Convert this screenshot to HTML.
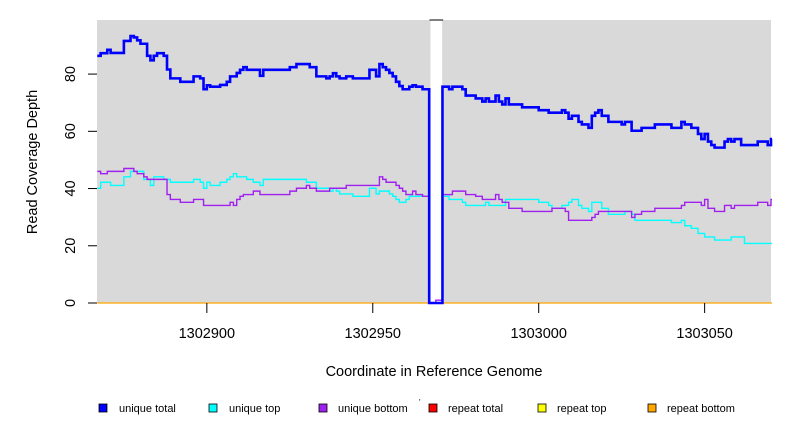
<!DOCTYPE html>
<html><head><meta charset="utf-8"><style>
html,body{margin:0;padding:0;background:#fff;width:792px;height:432px;overflow:hidden}
svg text{font-family:"Liberation Sans",sans-serif}
</style></head><body>
<svg id="chart" width="792" height="432" xmlns="http://www.w3.org/2000/svg">
<rect x="97" y="20" width="674" height="283" fill="#d9d9d9"/>
<g id="series"></g>
<g id="axes"></g>
<text x="434" y="376" font-size="14.5" text-anchor="middle">Coordinate in Reference Genome</text>
<text transform="translate(37,162) rotate(-90)" font-size="14.5" text-anchor="middle">Read Coverage Depth</text>
<g font-size="11">
<rect x="99" y="404" width="8" height="8" fill="#0000ff" stroke="#000" stroke-width="0.8"/>
<text x="119" y="412">unique total</text>
<rect x="209" y="404" width="8" height="8" fill="#00ffff" stroke="#000" stroke-width="0.8"/>
<text x="229" y="412">unique top</text>
<rect x="319" y="404" width="8" height="8" fill="#a020f0" stroke="#000" stroke-width="0.8"/>
<text x="338" y="412">unique bottom</text>
<text x="419" y="405" font-size="8">'</text>
<rect x="429" y="404" width="8" height="8" fill="#ff0000" stroke="#000" stroke-width="0.8"/>
<text x="448" y="412">repeat total</text>
<rect x="538" y="404" width="8" height="8" fill="#ffff00" stroke="#000" stroke-width="0.8"/>
<text x="557" y="412">repeat top</text>
<rect x="648" y="404" width="8" height="8" fill="#ffa500" stroke="#000" stroke-width="0.8"/>
<text x="667" y="412">repeat bottom</text>
</g>
</svg>
<script>
const baseStart = 1302867;
const xTicks = [1302900, 1302950, 1303000, 1303050];
const yTicks = [0, 20, 40, 60, 80];
const gapRange = [1302967.4, 1302970.9];
const seriesEnd = 203.3;
// runs: [offset from baseStart, depth]
const uniqueTotal = [[0,86.4],[1,87.3],[3,88.5],[4,87.4],[8,91.6],[10,93.3],[11,92.8],[12,91.8],[13,90.6],[15,86.4],[16,84.8],[17,86.4],[18,87.3],[20,86.4],[21,81.6],[22,78.5],[25,77.3],[29,79.2],[31,78.5],[32,74.7],[33,76.1],[34,75.6],[37,76.2],[39,77.3],[40,79.2],[42,80.4],[43,81.5],[44,82.4],[45,81.5],[49,79.4],[50,81.5],[58,82.4],[60,83.5],[64,82.4],[66,79.2],[69,78.5],[70,79.2],[71,80.3],[72,79.2],[73,78.5],[75,79.2],[77,78.5],[82,81.5],[84,79.2],[85,83.5],[86,82.4],[87,81.5],[88,80.4],[89,79.2],[90,77.3],[91,75.8],[92,74.7],[94,75.6],[95,76.1],[96,75.6],[98,74.7],[100,0],[104,75.6],[106,74.7],[107,75.6],[110,74.7],[111,72.5],[114,71.5],[116,70.4],[117,71.5],[118,70.4],[120,72.5],[121,70.4],[122,69.4],[123,71.5],[124,69.4],[128,68.4],[133,67.4],[136,66.5],[140,67.4],[141,66.5],[142,64.4],[143,65.4],[145,63.3],[146,62.4],[148,61.2],[149,65.4],[150,66.5],[151,67.4],[152,65.4],[154,63.3],[158,62.4],[159,63.3],[161,60.2],[164,61.2],[168,62.4],[173,61.2],[176,63.3],[177,62.4],[179,61.2],[181,59.1],[182,57.3],[183,59.1],[184,56.4],[185,55.2],[186,54.3],[189,56.4],[190,57.3],[191,56.4],[192,57.3],[194,55.2],[199,56.4],[202,55.2],[203,57.3]];
const uniqueTop = [[0,40.1],[1,42.2],[4,41.1],[8,44.1],[10,46.0],[14,43.2],[16,41.1],[17,44.1],[20,43.2],[22,42.2],[29,43.2],[31,42.2],[32,40.1],[33,42.2],[34,41.1],[37,42.2],[39,43.2],[40,44.1],[41,45.2],[42,44.1],[45,43.2],[47,42.2],[49,41.1],[50,43.2],[63,42.2],[66,40.1],[70,39.1],[71,40.1],[72,39.1],[73,38.1],[77,37.3],[82,40.1],[84,38.1],[85,39.1],[88,38.1],[89,37.3],[90,36.2],[91,35.2],[93,36.2],[94,37.3],[100,0],[104,37.3],[106,36.2],[110,35.2],[111,34.1],[117,35.2],[118,34.1],[123,36.2],[133,35.2],[136,34.1],[137,33.1],[140,34.1],[142,35.2],[143,36.2],[145,34.1],[146,33.1],[148,32.0],[149,35.2],[152,33.1],[154,31.0],[159,32.0],[161,31.0],[162,28.9],[173,28.1],[176,28.9],[177,27.0],[179,26.1],[181,24.3],[183,23.1],[186,22.0],[191,23.1],[195,20.8]];
const uniqueBottom = [[0,46.0],[1,45.2],[3,46.0],[8,47.0],[11,46.0],[12,45.2],[14,44.1],[15,43.2],[21,37.9],[22,36.2],[25,35.2],[29,36.2],[32,34.1],[40,35.2],[41,34.1],[42,36.2],[43,37.3],[44,37.9],[47,39.1],[49,37.9],[58,39.1],[60,40.1],[63,41.1],[64,40.1],[66,39.1],[70,40.1],[75,41.1],[85,44.1],[86,43.2],[87,42.2],[90,41.1],[91,40.1],[92,39.1],[93,37.9],[95,39.1],[96,37.9],[98,37.3],[100,0],[102,1],[104,37.9],[107,39.1],[111,37.9],[114,37.3],[116,36.2],[120,37.9],[121,36.2],[122,35.2],[124,33.1],[128,32.0],[137,33.1],[141,32.0],[142,28.9],[149,29.9],[150,31.0],[151,32.0],[161,29.9],[162,31.0],[164,32.0],[168,33.1],[176,34.1],[177,35.2],[182,34.1],[183,36.2],[184,33.1],[186,32.0],[189,34.1],[191,33.1],[192,34.1],[199,35.2],[202,34.1],[203,36.2]];
const repeatBottom = [[0,0]];

const NS = 'http://www.w3.org/2000/svg';
const X0 = 97, X1 = 771, Y0 = 303, Y1 = 20;
const xMin = 1302866.9, xMax = 1303070, yMin = 0, yMax = 98.9;
function xs(c){ return X0 + (c - xMin) / (xMax - xMin) * (X1 - X0); }
function ys(v){ return Y0 - (v - yMin) / (yMax - yMin) * (Y0 - Y1); }
const sg = document.getElementById('series');
const ag = document.getElementById('axes');

const gap = document.createElementNS(NS, 'rect');


gap.setAttribute('x', xs(gapRange[0])); gap.setAttribute('y', Y1);
gap.setAttribute('width', xs(gapRange[1]) - xs(gapRange[0])); gap.setAttribute('height', Y0 - Y1);
gap.setAttribute('fill', '#fff');
sg.appendChild(gap);
const gapTop = document.createElementNS(NS, 'line');


gapTop.setAttribute('x1', xs(gapRange[0]) - 1); gapTop.setAttribute('x2', xs(gapRange[1]) + 1);
gapTop.setAttribute('y1', Y1); gapTop.setAttribute('y2', Y1);
gapTop.setAttribute('stroke', '#000'); gapTop.setAttribute('stroke-width', '1');
sg.appendChild(gapTop);

function stepPath(runs){
  let d = '';
  runs.forEach((r, i) => {
    const x = xs(baseStart + r[0]).toFixed(2), y = ys(r[1]).toFixed(2);
    d += (i === 0 ? 'M' + x + ' ' + y : 'H' + x + 'V' + y);
  });
  d += 'H' + xs(baseStart + seriesEnd).toFixed(2);
  return d;
}
function addSeries(runs, name, color, w){
  const p = document.createElementNS(NS, 'path');
  
  
  p.setAttribute('d', stepPath(runs));
  p.setAttribute('fill', 'none');
  p.setAttribute('stroke', color);
  p.setAttribute('stroke-width', w);
  sg.appendChild(p);
}
addSeries(repeatBottom, 'repeat-bottom-line', '#ffa500', 1.2);
addSeries(uniqueTop, 'unique-top-line', '#00ffff', 1.4);
addSeries(uniqueBottom, 'unique-bottom-line', '#a020f0', 1.4);
addSeries(uniqueTotal, 'unique-total-line', '#0000ff', 2.6);

xTicks.forEach(t => {
  const l = document.createElementNS(NS, 'line');
  
  
  l.setAttribute('x1', xs(t)); l.setAttribute('x2', xs(t));
  l.setAttribute('y1', Y0); l.setAttribute('y2', Y0 + 10);
  l.setAttribute('stroke', '#000');
  ag.appendChild(l);
  const tx = document.createElementNS(NS, 'text');
  
  
  tx.setAttribute('x', xs(t)); tx.setAttribute('y', 338);
  tx.setAttribute('font-size', '14.5'); tx.setAttribute('text-anchor', 'middle');
  tx.textContent = t;
  ag.appendChild(tx);
});
yTicks.forEach(t => {
  const l = document.createElementNS(NS, 'line');
  
  
  l.setAttribute('x1', X0 - 9); l.setAttribute('x2', X0);
  l.setAttribute('y1', ys(t)); l.setAttribute('y2', ys(t));
  l.setAttribute('stroke', '#000');
  ag.appendChild(l);
  const tx = document.createElementNS(NS, 'text');
  
  
  tx.setAttribute('transform', 'translate(75,' + ys(t) + ') rotate(-90)');
  tx.setAttribute('font-size', '14.5'); tx.setAttribute('text-anchor', 'middle');
  tx.textContent = t;
  ag.appendChild(tx);
});
</script>
</body></html>
